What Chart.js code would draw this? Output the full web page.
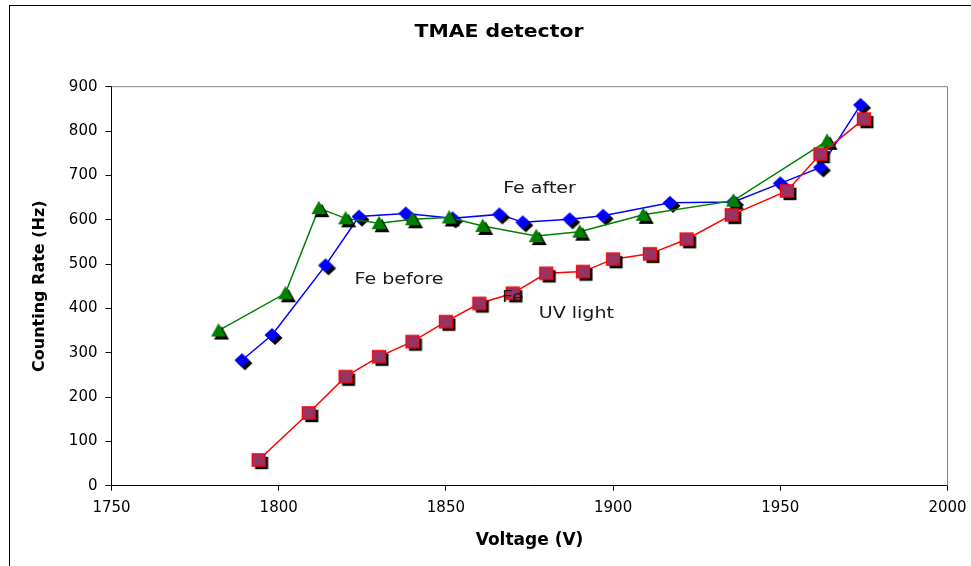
<!DOCTYPE html>
<html>
<head>
<meta charset="utf-8">
<script src="https://cdn.jsdelivr.net/npm/chart.js@4"></script>
<style>
html,body{margin:0;padding:0;background:#fff;overflow:hidden}
canvas{display:block}
</style>
</head>
<body>
<canvas id="c" width="971" height="566"></canvas>
<script>
// ---- data ----
const voltageBlue = [1789, 1798, 1814, 1824, 1838, 1852, 1866, 1873, 1887, 1897, 1917, 1936, 1950, 1962, 1974];
const rateBlue    = [283, 340, 497, 607, 614, 603, 612, 594, 601, 609, 638, 640, 682, 718, 859];

const voltageGreen = [1782, 1802, 1812, 1820, 1830, 1840, 1851, 1861, 1877, 1890, 1909, 1936, 1964];
const rateGreen    = [350, 434, 626, 603, 592, 601, 605, 586, 563, 573, 611, 643, 778];

const voltageRed = [1794, 1809, 1820, 1830, 1840, 1850, 1860, 1870, 1880, 1891, 1900, 1911, 1922, 1935.5, 1952, 1962, 1975];
const rateRed    = [58, 164, 246, 291, 325, 370, 411, 434, 479, 483, 511, 523, 556, 611, 665, 748, 827];

const xTickValues = [1750, 1800, 1850, 1900, 1950, 2000];
const yTickValues = [0, 100, 200, 300, 400, 500, 600, 700, 800, 900];

const chartTitle = 'TMAE detector';
const xTitle = 'Voltage (V)';
const yTitle = 'Counting Rate (Hz)';

const notes = [
  {text: 'Fe after',  x: 1878, y: 668},
  {text: 'Fe before', x: 1836, y: 463},
  {text: 'Fe',        x: 1870, y: 424},
  {text: 'UV light',  x: 1889, y: 386}
];

// ---- markers with drop shadow ----
function marker(shape, fill, stroke) {
  const c = document.createElement('canvas');
  c.width = 28; c.height = 28;
  const g = c.getContext('2d');
  const path = (ox, oy) => {
    const cx = 14 + ox, cy = 14 + oy;
    g.beginPath();
    if (shape === 'diamond') {
      g.moveTo(cx, cy - 7); g.lineTo(cx + 7.5, cy); g.lineTo(cx, cy + 7); g.lineTo(cx - 7.5, cy);
    } else if (shape === 'square') {
      g.rect(cx - 6.5, cy - 6.2, 13, 12.4);
    } else {
      g.moveTo(cx, cy - 7.5); g.lineTo(cx + 7.5, cy + 6); g.lineTo(cx - 7.5, cy + 6);
    }
    g.closePath();
  };
  path(3, 3); g.fillStyle = '#000'; g.fill();
  path(0, 0); g.fillStyle = fill; g.fill();
  if (stroke) { g.strokeStyle = stroke; g.lineWidth = 1.3; g.stroke(); }
  return c;
}

const toXY = (xs, ys) => xs.map((x, i) => ({x: x, y: ys[i]}));

const decor = {
  id: 'decor',
  beforeDraw(chart) {
    const ctx = chart.ctx;
    ctx.save();
    ctx.fillStyle = '#fff';
    ctx.fillRect(0, 0, chart.width, chart.height);
    ctx.strokeStyle = '#000';
    ctx.lineWidth = 1;
    ctx.strokeRect(9.5, 5.5, 1000, 600);
    ctx.restore();
  },
  beforeDatasetsDraw(chart) {
    const ctx = chart.ctx, a = chart.chartArea;
    ctx.save();
    ctx.strokeStyle = '#808080';
    ctx.lineWidth = 1;
    ctx.beginPath();
    ctx.moveTo(a.left, a.top); ctx.lineTo(a.right, a.top); ctx.lineTo(a.right, a.bottom);
    ctx.stroke();
    ctx.restore();
  },
  afterDatasetsDraw(chart) {
    const ctx = chart.ctx;
    const xs = chart.scales.x, ys = chart.scales.y;
    const drawStretched = (text, cx, cy, font, sx, color) => {
      ctx.save();
      ctx.font = font;
      ctx.fillStyle = color;
      ctx.textAlign = 'center';
      ctx.textBaseline = 'middle';
      ctx.translate(cx, cy);
      ctx.scale(sx, 1);
      ctx.fillText(text, 0, 0);
      ctx.restore();
    };
    notes.forEach(n => {
      drawStretched(n.text, xs.getPixelForValue(n.x), ys.getPixelForValue(n.y),
        '15px "DejaVu Sans"', 1.27, '#1a1a1a');
    });
    drawStretched(chartTitle, 499, 33, 'bold 17px "DejaVu Sans"', 1.2, '#000');
  }
};

new Chart(document.getElementById('c'), {
  type: 'line',
  data: {
    datasets: [
      {
        label: 'UV light',
        data: toXY(voltageRed, rateRed),
        borderColor: '#ff0000',
        borderWidth: 1.5,
        pointStyle: marker('square', '#993366', '#ff0000'),
        pointRadius: 7
      },
      {
        label: 'Fe before',
        data: toXY(voltageGreen, rateGreen),
        borderColor: '#008000',
        borderWidth: 1.5,
        pointStyle: marker('triangle', '#008000', null),
        pointRadius: 7
      },
      {
        label: 'Fe after',
        data: toXY(voltageBlue, rateBlue),
        borderColor: '#0000ff',
        borderWidth: 1.5,
        pointStyle: marker('diamond', '#0000ff', null),
        pointRadius: 7
      }
    ]
  },
  options: {
    responsive: false,
    animation: false,
    events: [],
    devicePixelRatio: 1,
    layout: {padding: {top: 86.7, right: 23.5, bottom: 0, left: 0}},
    plugins: {legend: {display: false}, tooltip: {enabled: false}, title: {display: false}},
    elements: {line: {tension: 0}},
    scales: {
      x: {
        type: 'linear',
        min: 1750, max: 2000,
        afterBuildTicks: s => { s.ticks = xTickValues.map(v => ({value: v})); },
        afterFit: s => { s.height = 80.3; s.paddingRight = 0; s.paddingLeft = 0; },
        ticks: {font: {family: 'DejaVu Sans', size: 15}, color: '#000', padding: 8, maxRotation: 0,
                callback: v => String(v)},
        grid: {drawOnChartArea: false, drawTicks: true, tickLength: 5, color: '#000', tickColor: '#000'},
        border: {color: '#000', width: 1},
        title: {display: true, text: xTitle, color: '#000',
                font: {family: 'DejaVu Sans', size: 17, weight: 'bold'}, padding: {top: 0, bottom: 15}}
      },
      y: {
        type: 'linear',
        min: 0, max: 900,
        afterBuildTicks: s => { s.ticks = yTickValues.map(v => ({value: v})); },
        afterFit: s => { s.width = 111.5; s.paddingTop = 0; s.paddingBottom = 0; },
        ticks: {font: {family: 'DejaVu Sans', size: 15}, color: '#000', padding: 8,
                callback: v => String(v)},
        grid: {drawOnChartArea: false, drawTicks: true, tickLength: 6, color: '#000', tickColor: '#000'},
        border: {color: '#000', width: 1},
        title: {display: true, text: yTitle, color: '#000',
                font: {family: 'DejaVu Sans', size: 16, weight: 'bold'}, padding: {top: 30, bottom: 0}}
      }
    }
  },
  plugins: [decor]
});
</script>
</body>
</html>
